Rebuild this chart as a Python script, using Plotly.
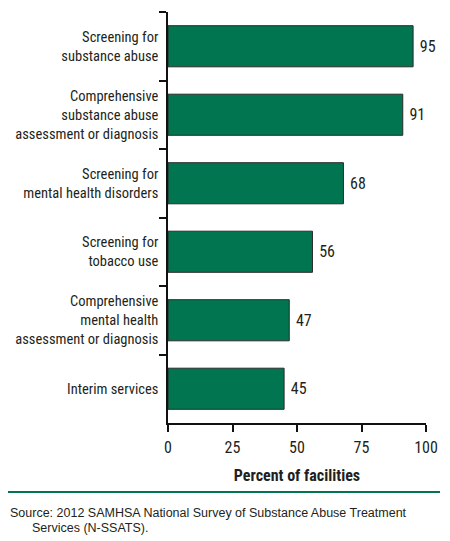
import plotly.graph_objects as go

# Data
services = [
    "Screening for<br>substance abuse",
    "Comprehensive<br>substance abuse<br>assessment or diagnosis",
    "Screening for<br>mental health disorders",
    "Screening for<br>tobacco use",
    "Comprehensive<br>mental health<br>assessment or diagnosis",
    "Interim services",
]
percent = [95, 91, 68, 56, 47, 45]
x_ticks = [0, 25, 50, 75, 100]

narrow = "Roboto Condensed, Roboto, sans-serif"
green = "#00754f"
ink = "#231f20"

# the page adds an 8px body margin, so the figure is 8px smaller than the window
W, H = 442, 533
L, R, T, B = 160, 24, 4, 118
plot_w = W - L - R
plot_h = H - T - B
OFF = 8


def px_x(x):
    return (x - OFF - L) / plot_w


def px_y(y):
    return (H - B - (y - OFF)) / plot_h


fig = go.Figure(go.Bar(
    x=percent,
    y=services,
    orientation="h",
    width=0.6,
    marker=dict(color=green, line=dict(color="#2b2b2b", width=1)),
    text=percent,
    texttemplate=" %{text}",
    textposition="outside",
    cliponaxis=False,
    textfont=dict(family=narrow, size=16, color=ink),
    hoverinfo="skip",
))

fig.update_layout(
    width=W,
    height=H,
    margin=dict(l=L, r=R, t=T, b=B, autoexpand=False),
    plot_bgcolor="white",
    paper_bgcolor="white",
    showlegend=False,
    font=dict(family=narrow, size=15, color=ink),
    xaxis=dict(
        range=[0, 100],
        tickvals=x_ticks,
        ticks="outside",
        ticklen=7,
        tickwidth=1.5,
        tickcolor="#111",
        showline=True,
        linecolor="#111",
        linewidth=1.5,
        showgrid=False,
        zeroline=False,
        automargin=False,
        ticklabelstandoff=2,
        tickfont=dict(family=narrow, size=16, color=ink),
        title=dict(
            text="<b>Percent of facilities</b>",
            font=dict(family=narrow, size=16, color=ink),
            standoff=14,
        ),
        fixedrange=True,
    ),
    yaxis=dict(
        categoryorder="array",
        categoryarray=services,
        autorange="reversed",
        tickson="boundaries",
        ticks="outside",
        ticklen=7,
        tickwidth=1.5,
        tickcolor="#111",
        showline=True,
        linecolor="#111",
        linewidth=1.5,
        showgrid=False,
        zeroline=False,
        automargin=False,
        ticklabelstandoff=5,
        tickfont=dict(family=narrow, size=14.5, color=ink),
        fixedrange=True,
    ),
)

# green rule above the source note
fig.add_shape(
    type="line", xref="paper", yref="paper",
    x0=px_x(8), x1=px_x(440), y0=px_y(492), y1=px_y(492),
    line=dict(color=green, width=2),
)

fig.add_annotation(
    xref="paper", yref="paper", x=px_x(8), y=px_y(513),
    xanchor="left", yanchor="middle", showarrow=False,
    text="Source: 2012 SAMHSA National Survey of Substance Abuse Treatment",
    font=dict(family="Liberation Sans, Arial, sans-serif", size=12.5, color=ink),
)
fig.add_annotation(
    xref="paper", yref="paper", x=px_x(30), y=px_y(528),
    xanchor="left", yanchor="middle", showarrow=False,
    text="Services (N-SSATS).",
    font=dict(family="Liberation Sans, Arial, sans-serif", size=12.5, color=ink),
)

fig.write_html("out.html")
